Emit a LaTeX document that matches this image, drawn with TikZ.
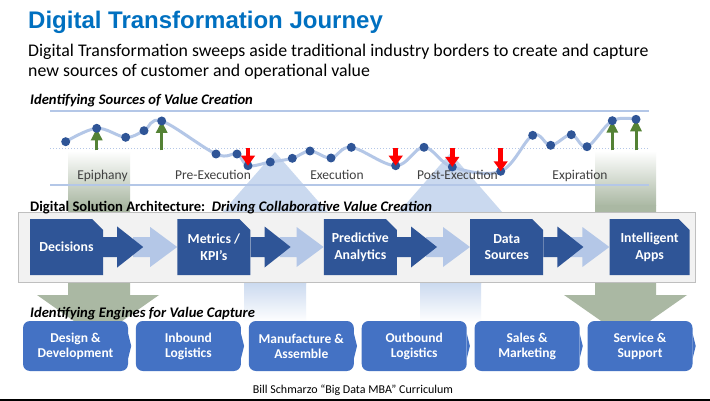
\documentclass[tikz,border=0pt]{standalone}
\usepackage{fontspec}
\setmainfont{Carlito}
\newfontfamily\titlefont{Liberation Sans}
\usepackage{xcolor}
\usetikzlibrary{arrows.meta, positioning, calc}
\definecolor{titleblue}{RGB}{0,112,192}
\definecolor{deepblue}{RGB}{47,85,151}
\definecolor{engineblue}{RGB}{68,114,196}
\definecolor{paleblue}{RGB}{180,199,231}
\definecolor{skyblue}{RGB}{202,217,239}
\definecolor{sage}{RGB}{170,184,163}
\definecolor{leafgreen}{RGB}{84,130,53}
\definecolor{phasegray}{RGB}{64,64,64}
\definecolor{panelgray}{RGB}{242,242,242}
\definecolor{paneledge}{RGB}{191,191,191}

\begin{document}
\begin{tikzpicture}[x=1pt, y=-1pt,
  dot/.style={circle, fill=deepblue, inner sep=0pt, minimum size=9pt},
  trend/.style={paleblue, line width=3pt, line cap=round, line join=round},
  rise/.style={-{Triangle[width=11pt, length=12pt]}, leafgreen, line width=3pt},
  fall/.style={-{Triangle[width=13.5pt, length=10pt]}, red, line width=4.5pt},
  phase/.style={font=\fontsize{13.5}{15}\selectfont, text=phasegray,
    anchor=base, inner sep=0pt},
  header/.style={font=\bfseries\itshape\fontsize{14.6}{17}\selectfont,
    anchor=base west, inner sep=0pt},
  solution/.style={minimum width=73pt, minimum height=56pt, inner sep=0pt,
    align=center, text=white, font=\bfseries\fontsize{13.8}{16.5}\selectfont,
    path picture={\fill[deepblue] (path picture bounding box.south west)
      -- (path picture bounding box.north west)
      -- ([xshift=-11pt]path picture bounding box.north east)
      -- ([yshift=-11pt]path picture bounding box.north east)
      -- (path picture bounding box.south east) -- cycle;}},
  engine/.style={rounded corners=7pt, fill=engineblue, minimum width=105pt,
    minimum height=50pt, inner sep=0pt, align=center, text=white,
    font=\bfseries\fontsize{13.5}{15}\selectfont},
  darkblock/.style={fill=deepblue},
  lightblock/.style={fill=paleblue}
]
\useasboundingbox (0,0) rectangle (710,401);
\fill[white] (0,0) rectangle (710,401);

% big background arrows
\shade[top color=white, bottom color=sage] (68,151) rectangle (130,206);
\fill[sage] (68,205.5) -- (130,205.5) -- (130,295) -- (159,295) -- (98,338)
  -- (37,295) -- (68,295) -- cycle;
\shade[top color=white, bottom color=sage] (595,151) rectangle (656,206);
\fill[sage] (595,205.5) -- (656,205.5) -- (656,295) -- (687,295)
  -- (625.5,338) -- (564,295) -- (595,295) -- cycle;
\fill[skyblue] (275,152) -- (352,240) -- (306,240) -- (306,284) -- (244,284)
  -- (244,240) -- (198,240) -- cycle;
\shade[top color=skyblue, bottom color=white] (244,282) rectangle (306,322);
\fill[skyblue] (450.5,153) -- (526.5,240) -- (481,240) -- (481,284)
  -- (420,284) -- (420,240) -- (374.5,240) -- cycle;
\shade[top color=skyblue, bottom color=white] (420,282) rectangle (481,322);

\coordinate (midline) at (50,148);
\coordinate (stembase) at (50,150.5);
\draw[paleblue, line width=1.2pt] (50,111) -- (649,111);
\draw[paleblue, line width=1.2pt] (50,185) -- (649,185);
\draw[paleblue, line width=0.8pt, dash pattern=on 1.2pt off 1.8pt]
  (midline) -- (649,148);

\foreach \x/\y [count=\i] in {65.7/141.7, 96.7/128.3, 125.7/137.3,
    144/130.7, 161.7/121, 216/154, 237/154, 248/165.7, 270.3/162,
    292.3/158.3, 310/151, 331/158, 351.3/147.3, 395.7/165.7, 424/147.3,
    452.3/167, 500.7/171.3, 532.7/135.3, 550.7/145.3, 571.3/134.7,
    587/146.7, 612.3/120.7, 636/119.3}
  \coordinate (p\i) at (\x,\y);
\draw[trend] plot[smooth, tension=0.6] coordinates {(p1) (p2) (p3) (p4)
  (p5) (p6) (p7) (p8) (p9) (p10) (p11) (p12) (p13) (p14) (p15) (p16)
  (p17) (p18) (p19) (p20) (p21) (p22) (p23)};
\foreach \i in {2,5,22,23}
  \draw[rise] (p\i |- stembase) -- (p\i);
\foreach \i in {1,...,23}
  \node[dot] (d\i) at (p\i) {};
\foreach \i in {8,14,16,17}
  \draw[fall] (p\i |- midline) -- (p\i);

\node[phase] (epiphany) at (102.5,180) {Epiphany};
\node[phase] (preexec) at (213,180) {Pre-Execution};
\node[phase] (exec) at (337,180) {Execution};
\node[phase] (postexec) at (457.5,180) {Post-Execution};
\node[phase] (expiry) at (580,180) {Expiration};

% solution architecture
\draw[fill=panelgray, draw=paneledge, line width=1pt] (18,213) rectangle (695,282);
\node[header, font=\bfseries\fontsize{14.6}{17}\selectfont] (hdrarch) at (30,211.5)
  {Digital Solution Architecture:\ \ \textit{Driving Collaborative Value Creation}};
\node[solution] (dec) at (66.5,247) {Decisions};
\node[solution, right=74pt of dec] (kpi) {Metrics /\\KPI’s};
\node[solution, right=73pt of kpi] (pred) {Predictive\\Analytics};
\node[solution, right=73pt of pred] (src) {Data\\Sources};
\node[solution, minimum width=80pt, right=66pt of src] (apps) {Intelligent\\Apps};
\foreach \a/\b in {dec/kpi, kpi/pred, pred/src, src/apps} {
  \fill[lightblock] ($(\b.west)+(-44,-10)$) -- ++(17,0) -- ++(0,-10)
    -- (\b.west) -- ++(-27,20) -- ++(0,-10) -- ++(-17,0) -- cycle;
  \fill[darkblock] ($(\a.east)+(0,-10)$) -- ++(14,0) -- ++(0,-10.5)
    -- ++(26,20.5) -- ++(-26,20.5) -- ++(0,-10.5) -- ++(-14,0) -- cycle;
}

% value capture engines
\node[header] (hdreng) at (30,317) {Identifying Engines for Value Capture};
\node[engine] (design) at (75.5,346) {Design \&\\Development};
\node[engine, right=7.5pt of design] (inbound) {Inbound\\Logistics};
\node[engine, right=7.5pt of inbound] (make) {Manufacture \&\\Assemble};
\node[engine, right=7.5pt of make] (outbound) {Outbound\\Logistics};
\node[engine, right=7.5pt of outbound] (sales) {Sales \&\\Marketing};
\node[engine, right=7.5pt of sales] (service) {Service \&\\Support};
\foreach \n in {design, inbound, make, outbound, sales, service}
  \fill[engineblue] ([yshift=12pt]\n.east) -- ([xshift=3pt]\n.east)
    -- ([yshift=-12pt]\n.east) -- cycle;

\node[anchor=base west, inner sep=0pt, text=titleblue,
  font=\titlefont\bfseries\fontsize{24}{28}\selectfont] (title) at (28,29)
  {Digital Transformation Journey};
\node[anchor=base west, inner sep=0pt, font=\fontsize{17.8}{21}\selectfont]
  (sub1) at (28,57) {Digital Transformation sweeps aside traditional industry
  borders to create and capture};
\node[anchor=base west, inner sep=0pt, font=\fontsize{17.8}{21}\selectfont]
  (sub2) at (28,77) {new sources of customer and operational value};
\node[header] (hdrsrc) at (30,105) {Identifying Sources of Value Creation};
\node[anchor=base, inner sep=0pt, font=\fontsize{12}{14}\selectfont]
  (credit) at (353,393) {Bill Schmarzo “Big Data MBA” Curriculum};
\fill[black] (0,398.5) rectangle (710,401);
\end{tikzpicture}
\end{document}
